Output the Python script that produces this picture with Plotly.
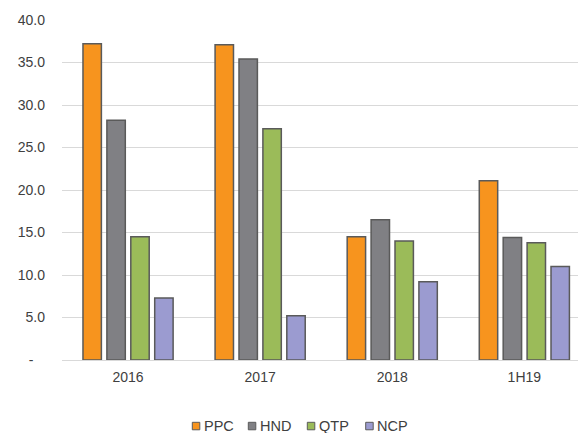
import plotly.graph_objects as go

# Categories and series
periods = ["2016", "2017", "2018", "1H19"]
series_names = ["PPC", "HND", "QTP", "NCP"]
ppc = [37.2, 37.1, 14.5, 21.1]
hnd = [28.2, 35.4, 16.5, 14.4]
qtp = [14.5, 27.2, 14.0, 13.8]
ncp = [7.3, 5.2, 9.2, 11.0]
y_tick_values = [0, 5, 10, 15, 20, 25, 30, 35, 40]
y_tick_labels = ["-\u00a0\u00a0\u00a0", "5.0", "10.0", "15.0", "20.0", "25.0", "30.0", "35.0", "40.0"]

colors = ["#F7941E", "#808084", "#9BBB59", "#9B9BD0"]
edge = "#5A5A5A"
font_family = "Liberation Sans, Arial, sans-serif"
text_color = "#404040"

W, H = 578, 433
left, top, bottom_px = 62, 19.5, 360.3
cat_px = 132.1  # pixel width of one category band

fig = go.Figure()
for name, vals, col in zip(series_names, [ppc, hnd, qtp, ncp], colors):
    fig.add_trace(go.Bar(
        x=periods, y=vals, name=name,
        marker=dict(color=col, line=dict(color=edge, width=1.5)),
        showlegend=False,
    ))

# Legend drawn as small squares with labels below the plot
legend_icon_px = [192.3, 248.3, 307.3, 365.7]
legend_y_px = 426.5
plot_w = W - left
plot_h = bottom_px - top


def px_to_paper_x(px):
    return (px - left) / plot_w


def px_to_paper_y(py):
    return (bottom_px - py) / plot_h


shapes = []
annotations = []
for name, col, ix in zip(series_names, colors, legend_icon_px):
    shapes.append(dict(
        type="rect", xref="paper", yref="paper",
        x0=px_to_paper_x(ix), x1=px_to_paper_x(ix + 7.5),
        y0=px_to_paper_y(legend_y_px + 3.75), y1=px_to_paper_y(legend_y_px - 3.75),
        fillcolor=col, line=dict(color=edge, width=1),
    ))
    annotations.append(dict(
        text=name, xref="paper", yref="paper",
        x=px_to_paper_x(ix + 9.5), y=px_to_paper_y(legend_y_px),
        xanchor="left", yanchor="middle", showarrow=False,
        font=dict(family=font_family, size=14.5, color=text_color),
    ))

fig.update_layout(
    width=W, height=H,
    margin=dict(l=left, r=0, t=top, b=H - bottom_px, pad=0),
    paper_bgcolor="white", plot_bgcolor="white",
    barmode="group", bargap=0.276, bargroupgap=0.23,
    font=dict(family=font_family, size=14, color=text_color),
    shapes=shapes, annotations=annotations,
    xaxis=dict(
        type="category",
        range=[-0.5, -0.5 + plot_w / cat_px],
        showgrid=False, showline=False, zeroline=False,
        ticks="", ticklabelstandoff=7,
        tickfont=dict(size=14, color=text_color),
        fixedrange=True,
    ),
    yaxis=dict(
        range=[0, 40],
        tickvals=y_tick_values, ticktext=y_tick_labels,
        showgrid=True, gridcolor="#D9D9D9", gridwidth=1,
        zeroline=True, zerolinecolor="#D9D9D9", zerolinewidth=1,
        showline=False, ticks="", ticklabelstandoff=16,
        tickfont=dict(size=14, color=text_color),
        fixedrange=True,
    ),
)

fig.write_html("out.html")
